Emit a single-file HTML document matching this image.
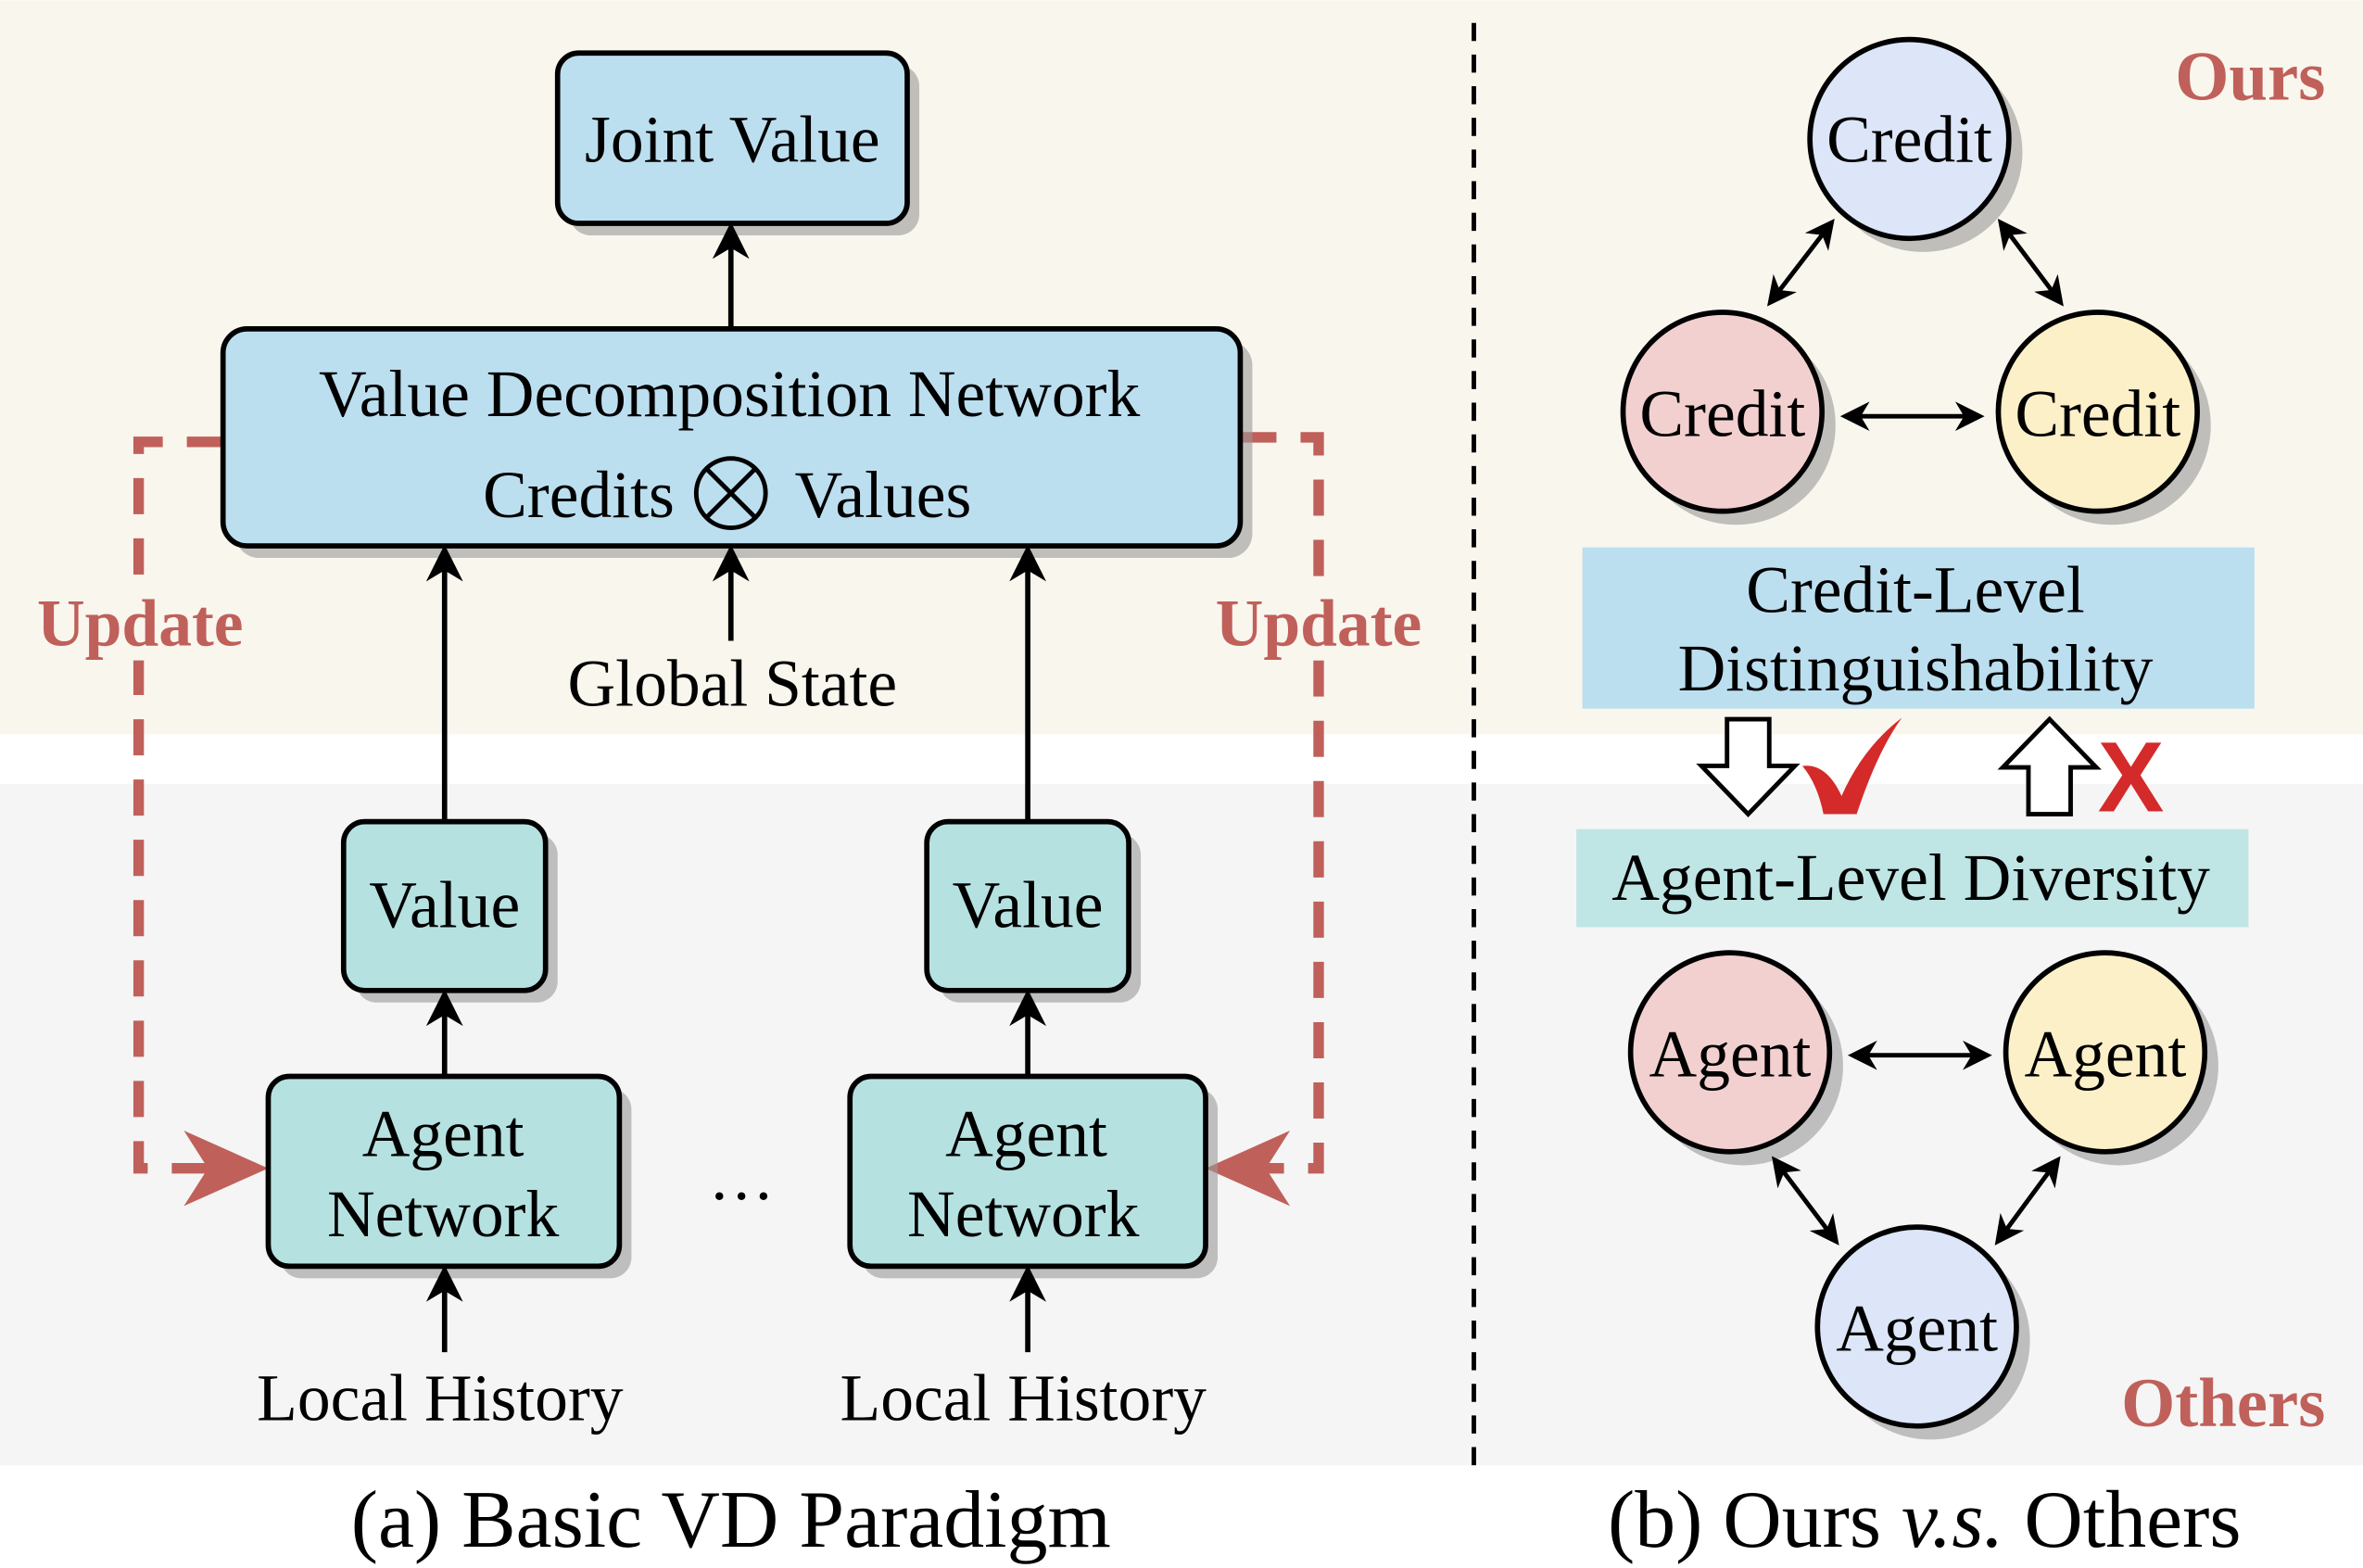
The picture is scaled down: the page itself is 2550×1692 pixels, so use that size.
<!DOCTYPE html>
<html><head><meta charset="utf-8"><style>html,body{margin:0;padding:0;background:#fff}svg{display:block}</style></head>
<body>
<svg width="2550" height="1692" viewBox="0 0 1568 1040" xmlns="http://www.w3.org/2000/svg" font-family="Liberation Serif, serif">
<defs>
<marker id="ah" viewBox="0 0 10 10" refX="8" refY="5" markerWidth="7" markerHeight="7" orient="auto-start-reverse"><path d="M0,0 L10,5 L0,10 L3,5 z" fill="#000"/></marker>
<marker id="ah2" viewBox="0 0 10 10" refX="8" refY="5" markerWidth="6.5" markerHeight="6.5" orient="auto-start-reverse"><path d="M0,0 L10,5 L0,10 L3,5 z" fill="#000"/></marker>
</defs>
<rect x="0" y="0" width="1568" height="487" fill="#f9f6ee"/>
<rect x="0" y="520" width="1568" height="452" fill="#f5f5f5"/>
<line x1="978" y1="15" x2="978" y2="972" stroke="#000" stroke-width="3" stroke-dasharray="12,9"/>

<!-- red dashed update paths -->
<g stroke="#c0605a" stroke-width="7" fill="none" stroke-dasharray="24,16">
<path d="M148,293 H92 V775 H140"/>
<path d="M823,290 H875 V775 H840"/>
</g>
<rect x="20" y="386" width="146" height="52" fill="#f9f6ee"/>
<rect x="802" y="386" width="146" height="52" fill="#f9f6ee"/>
<path d="M178,775 L122,750 L138,775 L122,800 z" fill="#c0605a"/>
<path d="M800,775 L856,750 L840,775 L856,800 z" fill="#c0605a"/>
<g fill="#c0605a" font-weight="bold" font-size="44" text-anchor="middle">
<text x="93" y="428">Update</text>
<text x="875" y="428">Update</text>
<text x="1543" y="66" font-size="46" text-anchor="end">Ours</text>
<text x="1543" y="946" font-size="46" text-anchor="end">Others</text>
</g>

<!-- boxes with shadows -->
<g fill="#999" opacity="0.6">
<rect x="378" y="43" width="232" height="113" rx="14"/>
<rect x="156" y="226" width="675" height="144" rx="16"/>
<rect x="236" y="553" width="134" height="112" rx="14"/>
<rect x="623" y="553" width="134" height="112" rx="14"/>
<rect x="186" y="722" width="233" height="126" rx="14"/>
<rect x="572" y="722" width="236" height="126" rx="14"/>
</g>
<g stroke="#000" stroke-width="3.5">
<rect x="370" y="35" width="232" height="113" rx="14" fill="#bcdff0"/>
<rect x="148" y="218" width="675" height="144" rx="16" fill="#bcdff0"/>
<rect x="228" y="545" width="134" height="112" rx="14" fill="#b6e1e1"/>
<rect x="615" y="545" width="134" height="112" rx="14" fill="#b6e1e1"/>
<rect x="178" y="714" width="233" height="126" rx="14" fill="#b6e1e1"/>
<rect x="564" y="714" width="236" height="126" rx="14" fill="#b6e1e1"/>
</g>

<!-- arrows left -->
<g stroke="#000" stroke-width="3.5" marker-end="url(#ah)">
<line x1="485" y1="218" x2="485" y2="152"/>
<line x1="295" y1="545" x2="295" y2="366"/>
<line x1="485" y1="425" x2="485" y2="366"/>
<line x1="682" y1="545" x2="682" y2="366"/>
<line x1="295" y1="714" x2="295" y2="661"/>
<line x1="682" y1="714" x2="682" y2="661"/>
<line x1="295" y1="897" x2="295" y2="844"/>
<line x1="682" y1="897" x2="682" y2="844"/>
</g>

<g font-size="44" text-anchor="middle" fill="#000">
<text x="486" y="107">Joint Value</text>
<text x="484" y="276">Value Decomposition Network</text>
<text x="384" y="343">Credits</text>
<text x="586" y="343">Values</text>
<text x="486" y="468">Global State</text>
<text x="295" y="615">Value</text>
<text x="682" y="615">Value</text>
<text x="294" y="767">Agent</text>
<text x="294" y="820">Network</text>
<text x="681" y="767">Agent</text>
<text x="679" y="820">Network</text>
<text x="492" y="808">···</text>
<text x="292" y="942">Local History</text>
<text x="679" y="942">Local History</text>
<text x="485" y="1026" font-size="54">(a) Basic VD Paradigm</text>
<text x="1277" y="1026" font-size="54">(b) Ours <tspan font-style="italic">v.s.</tspan> Others</text>
</g>
<circle cx="485" cy="327" r="23" fill="none" stroke="#000" stroke-width="3"/>
<line x1="469" y1="311" x2="501" y2="343" stroke="#000" stroke-width="3"/>
<line x1="501" y1="311" x2="469" y2="343" stroke="#000" stroke-width="3"/>

<!-- right circles -->
<g fill="#999" opacity="0.6">
<circle cx="1276" cy="101" r="66"/>
<circle cx="1152" cy="282" r="66"/>
<circle cx="1401" cy="282" r="66"/>
<circle cx="1157" cy="707" r="66"/>
<circle cx="1406" cy="707" r="66"/>
<circle cx="1281" cy="889" r="66"/>
</g>
<g stroke="#000" stroke-width="3.5">
<circle cx="1267" cy="92" r="66" fill="#dce6f8"/>
<circle cx="1143" cy="273" r="66" fill="#f3d0d0"/>
<circle cx="1392" cy="273" r="66" fill="#fcf0c8"/>
<circle cx="1148" cy="698" r="66" fill="#f3d0d0"/>
<circle cx="1397" cy="698" r="66" fill="#fcf0c8"/>
<circle cx="1272" cy="880" r="66" fill="#dce6f8"/>
</g>
<g stroke="#000" stroke-width="3" marker-start="url(#ah2)" marker-end="url(#ah2)">
<line x1="1175" y1="200" x2="1215" y2="148"/>
<line x1="1328" y1="148" x2="1367" y2="200"/>
<line x1="1225" y1="276" x2="1313" y2="276"/>
<line x1="1230" y1="700" x2="1318" y2="700"/>
<line x1="1178" y1="770" x2="1218" y2="823"/>
<line x1="1365" y1="770" x2="1326" y2="823"/>
</g>
<rect x="1050" y="363" width="446" height="107" fill="#bcdff0"/>
<rect x="1046" y="550" width="446" height="65" fill="#bfe5e5"/>
<g font-size="44" text-anchor="middle" fill="#000">
<text x="1267" y="107">Credit</text>
<text x="1143" y="289">Credit</text>
<text x="1392" y="289">Credit</text>
<text x="1148" y="714">Agent</text>
<text x="1397" y="714">Agent</text>
<text x="1272" y="896">Agent</text>
<text x="1271" y="406">Credit-Level</text>
<text x="1271" y="458">Distinguishability</text>
<text x="1268" y="597">Agent-Level Diversity</text>
</g>
<!-- hollow arrows -->
<path d="M1146,477 H1174 V508 H1191 L1160,540 L1129,508 H1146 z" fill="#fff" stroke="#000" stroke-width="3"/>
<path d="M1346,540 H1374 V509 H1391 L1360,477 L1329,509 H1346 z" fill="#fff" stroke="#000" stroke-width="3"/>
<path d="M1196,508 Q1212,506 1222,528 Q1236,496 1262,476 Q1246,498 1232,540 L1210,540 Q1206,520 1196,508 z" fill="#d42a2a"/>
<text x="1414" y="538" font-size="66" font-weight="bold" fill="#d42a2a" text-anchor="middle" font-family="Liberation Sans, sans-serif">X</text>
</svg>
</body></html>
